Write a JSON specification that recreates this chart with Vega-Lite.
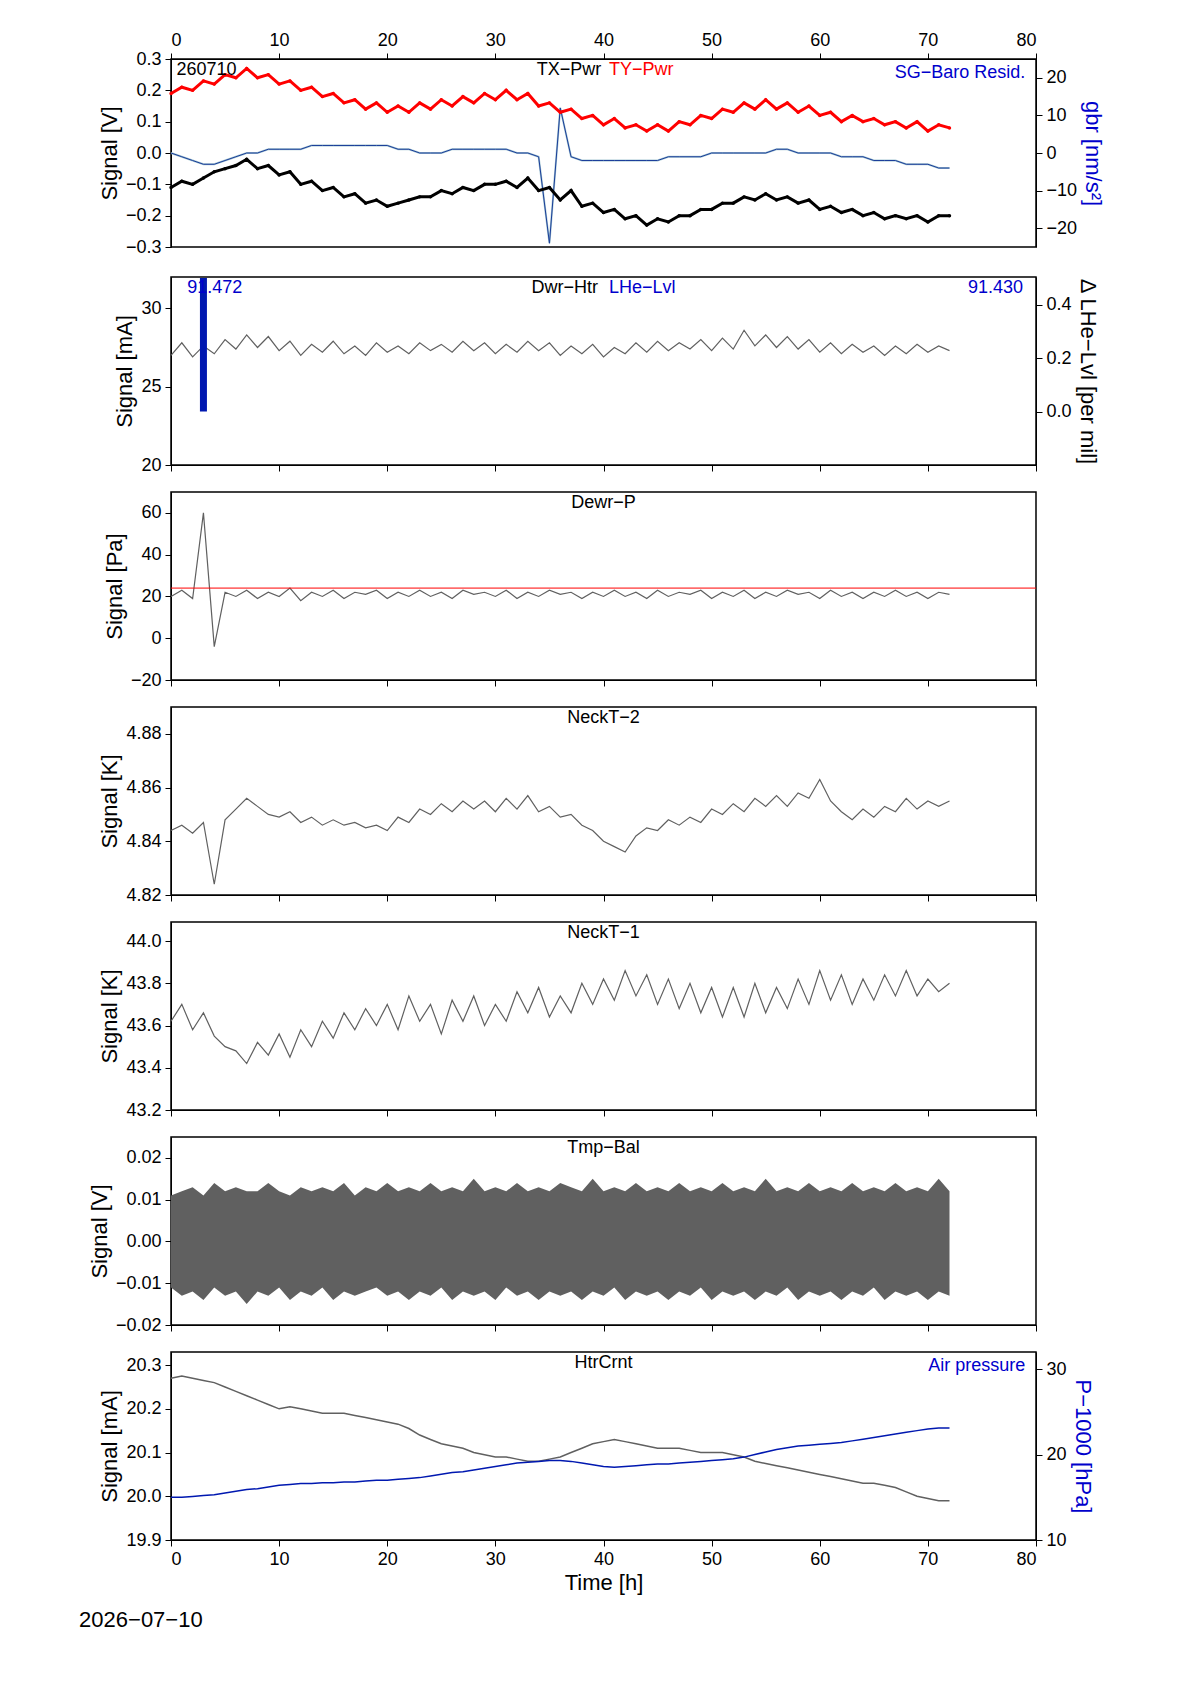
{
  "$schema": "https://vega.github.io/schema/vega-lite/v6.json",
  "background": "white",
  "padding": {"left": 78, "top": 30, "right": 20, "bottom": 10},
  "datasets": {
    "d": [
      {"t":0,"ty":0.19,"tx":-0.11,"sg":0,"hr":27.0,"dp":20,"n2":4.844,"n1":43.62,"lo":-0.011,"hi":0.011,"hc":20.27,"ap":15.0},
      {"t":1,"ty":0.21,"tx":-0.09,"sg":-1,"hr":27.8,"dp":23,"n2":4.846,"n1":43.70,"lo":-0.013,"hi":0.012,"hc":20.275,"ap":15.0},
      {"t":2,"ty":0.20,"tx":-0.10,"sg":-2,"hr":26.9,"dp":19,"n2":4.843,"n1":43.58,"lo":-0.012,"hi":0.013,"hc":20.27,"ap":15.1},
      {"t":3,"ty":0.23,"tx":-0.08,"sg":-3,"hr":27.6,"dp":60,"n2":4.847,"n1":43.66,"lo":-0.014,"hi":0.011,"hc":20.265,"ap":15.2},
      {"t":4,"ty":0.22,"tx":-0.06,"sg":-3,"hr":27.1,"dp":-4,"n2":4.824,"n1":43.55,"lo":-0.011,"hi":0.014,"hc":20.26,"ap":15.3},
      {"t":5,"ty":0.25,"tx":-0.05,"sg":-2,"hr":28.0,"dp":22,"n2":4.848,"n1":43.50,"lo":-0.013,"hi":0.012,"hc":20.25,"ap":15.5},
      {"t":6,"ty":0.24,"tx":-0.04,"sg":-1,"hr":27.4,"dp":20,"n2":4.852,"n1":43.48,"lo":-0.012,"hi":0.013,"hc":20.24,"ap":15.7},
      {"t":7,"ty":0.27,"tx":-0.02,"sg":0,"hr":28.3,"dp":23,"n2":4.856,"n1":43.42,"lo":-0.015,"hi":0.012,"hc":20.23,"ap":15.9},
      {"t":8,"ty":0.24,"tx":-0.05,"sg":0,"hr":27.5,"dp":19,"n2":4.853,"n1":43.52,"lo":-0.012,"hi":0.012,"hc":20.22,"ap":16.0},
      {"t":9,"ty":0.25,"tx":-0.04,"sg":1,"hr":28.2,"dp":22,"n2":4.850,"n1":43.46,"lo":-0.013,"hi":0.014,"hc":20.21,"ap":16.2},
      {"t":10,"ty":0.22,"tx":-0.07,"sg":1,"hr":27.3,"dp":20,"n2":4.849,"n1":43.56,"lo":-0.011,"hi":0.012,"hc":20.20,"ap":16.4},
      {"t":11,"ty":0.23,"tx":-0.06,"sg":1,"hr":27.9,"dp":24,"n2":4.851,"n1":43.45,"lo":-0.014,"hi":0.011,"hc":20.205,"ap":16.5},
      {"t":12,"ty":0.20,"tx":-0.10,"sg":1,"hr":27.0,"dp":18,"n2":4.847,"n1":43.58,"lo":-0.012,"hi":0.013,"hc":20.20,"ap":16.6},
      {"t":13,"ty":0.21,"tx":-0.09,"sg":2,"hr":27.7,"dp":22,"n2":4.849,"n1":43.50,"lo":-0.013,"hi":0.012,"hc":20.195,"ap":16.6},
      {"t":14,"ty":0.18,"tx":-0.12,"sg":2,"hr":27.2,"dp":20,"n2":4.846,"n1":43.62,"lo":-0.011,"hi":0.013,"hc":20.19,"ap":16.7},
      {"t":15,"ty":0.19,"tx":-0.11,"sg":2,"hr":27.9,"dp":23,"n2":4.848,"n1":43.54,"lo":-0.014,"hi":0.012,"hc":20.19,"ap":16.7},
      {"t":16,"ty":0.16,"tx":-0.14,"sg":2,"hr":27.1,"dp":19,"n2":4.846,"n1":43.66,"lo":-0.012,"hi":0.014,"hc":20.19,"ap":16.8},
      {"t":17,"ty":0.17,"tx":-0.13,"sg":2,"hr":27.6,"dp":22,"n2":4.847,"n1":43.58,"lo":-0.013,"hi":0.011,"hc":20.185,"ap":16.8},
      {"t":18,"ty":0.14,"tx":-0.16,"sg":2,"hr":27.0,"dp":21,"n2":4.845,"n1":43.68,"lo":-0.012,"hi":0.013,"hc":20.18,"ap":16.9},
      {"t":19,"ty":0.16,"tx":-0.15,"sg":2,"hr":27.8,"dp":23,"n2":4.846,"n1":43.60,"lo":-0.011,"hi":0.012,"hc":20.175,"ap":17.0},
      {"t":20,"ty":0.13,"tx":-0.17,"sg":2,"hr":27.2,"dp":19,"n2":4.844,"n1":43.70,"lo":-0.013,"hi":0.014,"hc":20.17,"ap":17.0},
      {"t":21,"ty":0.15,"tx":-0.16,"sg":1,"hr":27.6,"dp":22,"n2":4.849,"n1":43.58,"lo":-0.012,"hi":0.012,"hc":20.165,"ap":17.1},
      {"t":22,"ty":0.13,"tx":-0.15,"sg":1,"hr":27.1,"dp":20,"n2":4.847,"n1":43.74,"lo":-0.014,"hi":0.013,"hc":20.155,"ap":17.2},
      {"t":23,"ty":0.16,"tx":-0.14,"sg":0,"hr":27.8,"dp":23,"n2":4.852,"n1":43.62,"lo":-0.012,"hi":0.012,"hc":20.14,"ap":17.3},
      {"t":24,"ty":0.14,"tx":-0.14,"sg":0,"hr":27.3,"dp":20,"n2":4.850,"n1":43.70,"lo":-0.013,"hi":0.014,"hc":20.13,"ap":17.5},
      {"t":25,"ty":0.17,"tx":-0.12,"sg":0,"hr":27.7,"dp":22,"n2":4.854,"n1":43.56,"lo":-0.011,"hi":0.012,"hc":20.12,"ap":17.7},
      {"t":26,"ty":0.15,"tx":-0.13,"sg":1,"hr":27.2,"dp":19,"n2":4.851,"n1":43.72,"lo":-0.014,"hi":0.013,"hc":20.115,"ap":17.9},
      {"t":27,"ty":0.18,"tx":-0.11,"sg":1,"hr":27.9,"dp":23,"n2":4.855,"n1":43.62,"lo":-0.012,"hi":0.012,"hc":20.11,"ap":18.0},
      {"t":28,"ty":0.16,"tx":-0.12,"sg":1,"hr":27.3,"dp":21,"n2":4.852,"n1":43.74,"lo":-0.013,"hi":0.015,"hc":20.10,"ap":18.2},
      {"t":29,"ty":0.19,"tx":-0.10,"sg":1,"hr":27.8,"dp":22,"n2":4.855,"n1":43.60,"lo":-0.012,"hi":0.012,"hc":20.095,"ap":18.4},
      {"t":30,"ty":0.17,"tx":-0.10,"sg":1,"hr":27.1,"dp":20,"n2":4.851,"n1":43.70,"lo":-0.014,"hi":0.013,"hc":20.09,"ap":18.6},
      {"t":31,"ty":0.20,"tx":-0.09,"sg":1,"hr":27.7,"dp":23,"n2":4.856,"n1":43.62,"lo":-0.011,"hi":0.012,"hc":20.09,"ap":18.8},
      {"t":32,"ty":0.17,"tx":-0.11,"sg":0,"hr":27.2,"dp":19,"n2":4.852,"n1":43.76,"lo":-0.013,"hi":0.014,"hc":20.085,"ap":19.0},
      {"t":33,"ty":0.19,"tx":-0.08,"sg":0,"hr":27.9,"dp":22,"n2":4.857,"n1":43.66,"lo":-0.012,"hi":0.012,"hc":20.08,"ap":19.1},
      {"t":34,"ty":0.15,"tx":-0.12,"sg":-1,"hr":27.3,"dp":20,"n2":4.851,"n1":43.78,"lo":-0.014,"hi":0.013,"hc":20.08,"ap":19.2},
      {"t":35,"ty":0.16,"tx":-0.11,"sg":-24,"hr":27.8,"dp":23,"n2":4.853,"n1":43.64,"lo":-0.012,"hi":0.012,"hc":20.085,"ap":19.3},
      {"t":36,"ty":0.13,"tx":-0.15,"sg":12,"hr":27.0,"dp":21,"n2":4.849,"n1":43.74,"lo":-0.013,"hi":0.014,"hc":20.09,"ap":19.3},
      {"t":37,"ty":0.14,"tx":-0.12,"sg":-1,"hr":27.6,"dp":22,"n2":4.850,"n1":43.66,"lo":-0.012,"hi":0.013,"hc":20.10,"ap":19.2},
      {"t":38,"ty":0.11,"tx":-0.17,"sg":-2,"hr":27.1,"dp":19,"n2":4.846,"n1":43.80,"lo":-0.014,"hi":0.012,"hc":20.11,"ap":19.0},
      {"t":39,"ty":0.12,"tx":-0.16,"sg":-2,"hr":27.7,"dp":22,"n2":4.844,"n1":43.70,"lo":-0.012,"hi":0.015,"hc":20.12,"ap":18.8},
      {"t":40,"ty":0.09,"tx":-0.19,"sg":-2,"hr":26.9,"dp":20,"n2":4.840,"n1":43.82,"lo":-0.013,"hi":0.012,"hc":20.125,"ap":18.6},
      {"t":41,"ty":0.11,"tx":-0.18,"sg":-2,"hr":27.5,"dp":23,"n2":4.838,"n1":43.72,"lo":-0.011,"hi":0.013,"hc":20.13,"ap":18.5},
      {"t":42,"ty":0.08,"tx":-0.21,"sg":-2,"hr":27.1,"dp":20,"n2":4.836,"n1":43.86,"lo":-0.014,"hi":0.012,"hc":20.125,"ap":18.6},
      {"t":43,"ty":0.09,"tx":-0.20,"sg":-2,"hr":27.8,"dp":22,"n2":4.842,"n1":43.74,"lo":-0.012,"hi":0.014,"hc":20.12,"ap":18.7},
      {"t":44,"ty":0.07,"tx":-0.23,"sg":-2,"hr":27.2,"dp":19,"n2":4.845,"n1":43.84,"lo":-0.013,"hi":0.012,"hc":20.115,"ap":18.8},
      {"t":45,"ty":0.09,"tx":-0.21,"sg":-2,"hr":27.9,"dp":23,"n2":4.844,"n1":43.70,"lo":-0.012,"hi":0.013,"hc":20.11,"ap":18.9},
      {"t":46,"ty":0.07,"tx":-0.22,"sg":-1,"hr":27.3,"dp":20,"n2":4.848,"n1":43.82,"lo":-0.014,"hi":0.012,"hc":20.11,"ap":18.9},
      {"t":47,"ty":0.10,"tx":-0.20,"sg":-1,"hr":27.8,"dp":22,"n2":4.846,"n1":43.68,"lo":-0.012,"hi":0.014,"hc":20.11,"ap":19.0},
      {"t":48,"ty":0.09,"tx":-0.20,"sg":-1,"hr":27.4,"dp":21,"n2":4.849,"n1":43.80,"lo":-0.013,"hi":0.012,"hc":20.105,"ap":19.1},
      {"t":49,"ty":0.12,"tx":-0.18,"sg":-1,"hr":28.0,"dp":23,"n2":4.847,"n1":43.66,"lo":-0.011,"hi":0.013,"hc":20.10,"ap":19.2},
      {"t":50,"ty":0.11,"tx":-0.18,"sg":0,"hr":27.3,"dp":19,"n2":4.852,"n1":43.78,"lo":-0.014,"hi":0.012,"hc":20.10,"ap":19.3},
      {"t":51,"ty":0.14,"tx":-0.16,"sg":0,"hr":28.1,"dp":22,"n2":4.850,"n1":43.64,"lo":-0.012,"hi":0.014,"hc":20.10,"ap":19.4},
      {"t":52,"ty":0.13,"tx":-0.16,"sg":0,"hr":27.4,"dp":20,"n2":4.854,"n1":43.78,"lo":-0.013,"hi":0.012,"hc":20.095,"ap":19.5},
      {"t":53,"ty":0.16,"tx":-0.14,"sg":0,"hr":28.6,"dp":23,"n2":4.851,"n1":43.64,"lo":-0.012,"hi":0.013,"hc":20.09,"ap":19.7},
      {"t":54,"ty":0.14,"tx":-0.15,"sg":0,"hr":27.6,"dp":19,"n2":4.856,"n1":43.80,"lo":-0.014,"hi":0.012,"hc":20.08,"ap":20.0},
      {"t":55,"ty":0.17,"tx":-0.13,"sg":0,"hr":28.3,"dp":22,"n2":4.853,"n1":43.66,"lo":-0.012,"hi":0.015,"hc":20.075,"ap":20.3},
      {"t":56,"ty":0.14,"tx":-0.15,"sg":1,"hr":27.5,"dp":20,"n2":4.857,"n1":43.78,"lo":-0.013,"hi":0.012,"hc":20.07,"ap":20.6},
      {"t":57,"ty":0.16,"tx":-0.14,"sg":1,"hr":28.2,"dp":23,"n2":4.853,"n1":43.68,"lo":-0.011,"hi":0.013,"hc":20.065,"ap":20.8},
      {"t":58,"ty":0.13,"tx":-0.16,"sg":0,"hr":27.4,"dp":21,"n2":4.858,"n1":43.82,"lo":-0.014,"hi":0.012,"hc":20.06,"ap":21.0},
      {"t":59,"ty":0.15,"tx":-0.15,"sg":0,"hr":28.0,"dp":22,"n2":4.856,"n1":43.70,"lo":-0.012,"hi":0.014,"hc":20.055,"ap":21.1},
      {"t":60,"ty":0.12,"tx":-0.18,"sg":0,"hr":27.2,"dp":19,"n2":4.863,"n1":43.86,"lo":-0.013,"hi":0.012,"hc":20.05,"ap":21.2},
      {"t":61,"ty":0.13,"tx":-0.17,"sg":0,"hr":27.8,"dp":23,"n2":4.855,"n1":43.72,"lo":-0.012,"hi":0.013,"hc":20.045,"ap":21.3},
      {"t":62,"ty":0.10,"tx":-0.19,"sg":-1,"hr":27.1,"dp":20,"n2":4.851,"n1":43.84,"lo":-0.014,"hi":0.012,"hc":20.04,"ap":21.4},
      {"t":63,"ty":0.12,"tx":-0.18,"sg":-1,"hr":27.7,"dp":22,"n2":4.848,"n1":43.70,"lo":-0.012,"hi":0.014,"hc":20.035,"ap":21.6},
      {"t":64,"ty":0.10,"tx":-0.20,"sg":-1,"hr":27.2,"dp":19,"n2":4.852,"n1":43.82,"lo":-0.013,"hi":0.012,"hc":20.03,"ap":21.8},
      {"t":65,"ty":0.11,"tx":-0.19,"sg":-2,"hr":27.6,"dp":22,"n2":4.849,"n1":43.72,"lo":-0.011,"hi":0.013,"hc":20.03,"ap":22.0},
      {"t":66,"ty":0.09,"tx":-0.21,"sg":-2,"hr":27.0,"dp":20,"n2":4.853,"n1":43.84,"lo":-0.014,"hi":0.012,"hc":20.025,"ap":22.2},
      {"t":67,"ty":0.10,"tx":-0.20,"sg":-2,"hr":27.6,"dp":23,"n2":4.851,"n1":43.74,"lo":-0.012,"hi":0.014,"hc":20.02,"ap":22.4},
      {"t":68,"ty":0.08,"tx":-0.21,"sg":-3,"hr":27.1,"dp":20,"n2":4.856,"n1":43.86,"lo":-0.013,"hi":0.012,"hc":20.01,"ap":22.6},
      {"t":69,"ty":0.10,"tx":-0.20,"sg":-3,"hr":27.7,"dp":22,"n2":4.852,"n1":43.74,"lo":-0.012,"hi":0.013,"hc":20.00,"ap":22.8},
      {"t":70,"ty":0.07,"tx":-0.22,"sg":-3,"hr":27.2,"dp":19,"n2":4.855,"n1":43.82,"lo":-0.014,"hi":0.012,"hc":19.995,"ap":23.0},
      {"t":71,"ty":0.09,"tx":-0.20,"sg":-4,"hr":27.6,"dp":22,"n2":4.853,"n1":43.76,"lo":-0.012,"hi":0.015,"hc":19.99,"ap":23.1},
      {"t":72,"ty":0.08,"tx":-0.20,"sg":-4,"hr":27.3,"dp":21,"n2":4.855,"n1":43.80,"lo":-0.013,"hi":0.012,"hc":19.99,"ap":23.1}
    ]
  },
  "data": {"name": "d"},
  "spacing": 16,
  "vconcat": [
    {
      "width": 865, "height": 188,
      "layer": [
        {"mark": {"type": "line", "color": "#a8c8d4", "strokeWidth": 2},
         "encoding": {"x": {"field": "t", "type": "quantitative", "scale": {"domain": [0, 80], "nice": false}, "axis": {"orient": "top", "title": null, "values": [0,10,20,30,40,50,60,70,80]}},
                      "y": {"field": "sg", "type": "quantitative", "scale": {"domain": [-25, 25]}, "axis": {"orient": "right", "title": "gbr [nm/s²]", "titleColor": "#0000cc", "values": [-20,-10,0,10,20]}}}},
        {"mark": {"type": "line", "color": "#1a3d99", "strokeWidth": 1},
         "encoding": {"x": {"field": "t", "type": "quantitative"}, "y": {"field": "sg", "type": "quantitative", "scale": {"domain": [-25, 25]}, "axis": null}}},
        {"mark": {"type": "line", "color": "red", "strokeWidth": 3, "point": {"size": 12, "color": "red"}},
         "encoding": {"x": {"field": "t", "type": "quantitative"}, "y": {"field": "ty", "type": "quantitative", "scale": {"domain": [-0.3, 0.3]}, "axis": {"title": "Signal [V]", "values": [-0.3,-0.2,-0.1,0,0.1,0.2,0.3], "format": ".1f"}}}},
        {"mark": {"type": "line", "color": "black", "strokeWidth": 3, "point": {"size": 12, "color": "black"}},
         "encoding": {"x": {"field": "t", "type": "quantitative"}, "y": {"field": "tx", "type": "quantitative", "scale": {"domain": [-0.3, 0.3]}, "axis": null}}},
        {"data": {"values": [{}]}, "mark": {"type": "text", "align": "left", "baseline": "top", "fontSize": 18, "dy": 2},
         "encoding": {"x": {"datum": 0.5, "type": "quantitative"}, "y": {"datum": 0.3, "type": "quantitative", "scale": {"domain": [-0.3, 0.3]}, "axis": null}, "text": {"value": "260710"}}},
        {"data": {"values": [{}]}, "mark": {"type": "text", "align": "right", "baseline": "top", "fontSize": 18, "dy": 2},
         "encoding": {"x": {"datum": 39.8, "type": "quantitative"}, "y": {"datum": 0.3, "type": "quantitative", "scale": {"domain": [-0.3, 0.3]}, "axis": null}, "text": {"value": "TX−Pwr"}}},
        {"data": {"values": [{}]}, "mark": {"type": "text", "align": "left", "baseline": "top", "fontSize": 18, "dy": 2, "color": "red"},
         "encoding": {"x": {"datum": 40.5, "type": "quantitative"}, "y": {"datum": 0.3, "type": "quantitative", "scale": {"domain": [-0.3, 0.3]}, "axis": null}, "text": {"value": "TY−Pwr"}}},
        {"data": {"values": [{}]}, "mark": {"type": "text", "align": "right", "baseline": "top", "fontSize": 18, "dy": 5, "color": "#0000cc"},
         "encoding": {"x": {"datum": 79, "type": "quantitative"}, "y": {"datum": 0.3, "type": "quantitative", "scale": {"domain": [-0.3, 0.3]}, "axis": null}, "text": {"value": "SG−Baro Resid."}}}
      ],
      "resolve": {"scale": {"y": "independent"}}
    },
    {
      "width": 865, "height": 188,
      "layer": [
        {"mark": {"type": "line", "color": "#606060", "strokeWidth": 1.2},
         "encoding": {"x": {"field": "t", "type": "quantitative", "scale": {"domain": [0, 80], "nice": false}, "axis": {"labels": false, "title": null, "values": [0,10,20,30,40,50,60,70,80]}},
                      "y": {"field": "hr", "type": "quantitative", "scale": {"domain": [20, 32], "nice": false}, "axis": {"title": "Signal [mA]", "values": [20, 25, 30]}}}},
        {"data": {"values": [{"t": 3, "a": 0, "b": 0.5}]}, "mark": {"type": "rule", "color": "#0018b0", "strokeWidth": 7},
         "encoding": {"x": {"field": "t", "type": "quantitative"}, "y": {"field": "a", "type": "quantitative", "scale": {"domain": [-0.2, 0.504], "nice": false}, "axis": {"orient": "right", "title": "Δ LHe−Lvl [per mil]", "values": [0, 0.2, 0.4], "format": ".1f"}}, "y2": {"field": "b"}}},
        {"data": {"values": [{}]}, "mark": {"type": "text", "align": "left", "baseline": "top", "fontSize": 18, "dy": 2, "color": "#0000cc"},
         "encoding": {"x": {"datum": 1.5, "type": "quantitative"}, "y": {"datum": 32, "type": "quantitative", "scale": {"domain": [20, 32]}, "axis": null}, "text": {"value": "91.472"}}},
        {"data": {"values": [{}]}, "mark": {"type": "text", "align": "right", "baseline": "top", "fontSize": 18, "dy": 2},
         "encoding": {"x": {"datum": 39.5, "type": "quantitative"}, "y": {"datum": 32, "type": "quantitative", "scale": {"domain": [20, 32]}, "axis": null}, "text": {"value": "Dwr−Htr"}}},
        {"data": {"values": [{}]}, "mark": {"type": "text", "align": "left", "baseline": "top", "fontSize": 18, "dy": 2, "color": "#0000cc"},
         "encoding": {"x": {"datum": 40.5, "type": "quantitative"}, "y": {"datum": 32, "type": "quantitative", "scale": {"domain": [20, 32]}, "axis": null}, "text": {"value": "LHe−Lvl"}}},
        {"data": {"values": [{}]}, "mark": {"type": "text", "align": "right", "baseline": "top", "fontSize": 18, "dy": 2, "color": "#0000cc"},
         "encoding": {"x": {"datum": 78.8, "type": "quantitative"}, "y": {"datum": 32, "type": "quantitative", "scale": {"domain": [20, 32]}, "axis": null}, "text": {"value": "91.430"}}}
      ],
      "resolve": {"scale": {"y": "independent"}}
    },
    {
      "width": 865, "height": 188,
      "layer": [
        {"mark": {"type": "line", "color": "#606060", "strokeWidth": 1.2},
         "encoding": {"x": {"field": "t", "type": "quantitative", "scale": {"domain": [0, 80], "nice": false}, "axis": {"labels": false, "title": null, "values": [0,10,20,30,40,50,60,70,80]}},
                      "y": {"field": "dp", "type": "quantitative", "scale": {"domain": [-20, 70], "nice": false}, "axis": {"title": "Signal [Pa]", "values": [-20, 0, 20, 40, 60]}}}},
        {"data": {"values": [{"v": 24}]}, "mark": {"type": "rule", "color": "red", "strokeWidth": 1},
         "encoding": {"y": {"field": "v", "type": "quantitative"}}},
        {"data": {"values": [{}]}, "mark": {"type": "text", "align": "center", "baseline": "top", "fontSize": 18, "dy": 2},
         "encoding": {"x": {"datum": 40, "type": "quantitative"}, "y": {"datum": 70, "type": "quantitative"}, "text": {"value": "Dewr−P"}}}
      ]
    },
    {
      "width": 865, "height": 188,
      "layer": [
        {"mark": {"type": "line", "color": "#606060", "strokeWidth": 1.2},
         "encoding": {"x": {"field": "t", "type": "quantitative", "scale": {"domain": [0, 80], "nice": false}, "axis": {"labels": false, "title": null, "values": [0,10,20,30,40,50,60,70,80]}},
                      "y": {"field": "n2", "type": "quantitative", "scale": {"domain": [4.82, 4.89], "nice": false, "zero": false}, "axis": {"title": "Signal [K]", "values": [4.82, 4.84, 4.86, 4.88], "format": ".2f"}}}},
        {"data": {"values": [{}]}, "mark": {"type": "text", "align": "center", "baseline": "top", "fontSize": 18, "dy": 2},
         "encoding": {"x": {"datum": 40, "type": "quantitative"}, "y": {"datum": 4.89, "type": "quantitative"}, "text": {"value": "NeckT−2"}}}
      ]
    },
    {
      "width": 865, "height": 188,
      "layer": [
        {"mark": {"type": "line", "color": "#606060", "strokeWidth": 1.2},
         "encoding": {"x": {"field": "t", "type": "quantitative", "scale": {"domain": [0, 80], "nice": false}, "axis": {"labels": false, "title": null, "values": [0,10,20,30,40,50,60,70,80]}},
                      "y": {"field": "n1", "type": "quantitative", "scale": {"domain": [43.2, 44.09], "nice": false, "zero": false}, "axis": {"title": "Signal [K]", "values": [43.2, 43.4, 43.6, 43.8, 44.0], "format": ".1f"}}}},
        {"data": {"values": [{}]}, "mark": {"type": "text", "align": "center", "baseline": "top", "fontSize": 18, "dy": 2},
         "encoding": {"x": {"datum": 40, "type": "quantitative"}, "y": {"datum": 44.09, "type": "quantitative"}, "text": {"value": "NeckT−1"}}}
      ]
    },
    {
      "width": 865, "height": 188,
      "layer": [
        {"mark": {"type": "area", "color": "#606060", "opacity": 1},
         "encoding": {"x": {"field": "t", "type": "quantitative", "scale": {"domain": [0, 80], "nice": false}, "axis": {"labels": false, "title": null, "values": [0,10,20,30,40,50,60,70,80]}},
                      "y": {"field": "lo", "type": "quantitative", "scale": {"domain": [-0.02, 0.025], "nice": false}, "axis": {"title": "Signal [V]", "values": [-0.02, -0.01, 0, 0.01, 0.02], "format": ".2f"}},
                      "y2": {"field": "hi"}}},
        {"data": {"values": [{}]}, "mark": {"type": "text", "align": "center", "baseline": "top", "fontSize": 18, "dy": 2},
         "encoding": {"x": {"datum": 40, "type": "quantitative"}, "y": {"datum": 0.025, "type": "quantitative"}, "text": {"value": "Tmp−Bal"}}}
      ]
    },
    {
      "width": 865, "height": 188,
      "layer": [
        {"mark": {"type": "line", "color": "#606060", "strokeWidth": 1.5},
         "encoding": {"x": {"field": "t", "type": "quantitative", "scale": {"domain": [0, 80], "nice": false}, "axis": {"title": "Time [h]", "values": [0,10,20,30,40,50,60,70,80]}},
                      "y": {"field": "hc", "type": "quantitative", "scale": {"domain": [19.9, 20.33], "nice": false, "zero": false}, "axis": {"title": "Signal [mA]", "values": [19.9, 20.0, 20.1, 20.2, 20.3], "format": ".1f"}}}},
        {"mark": {"type": "line", "color": "#0018b0", "strokeWidth": 1.5},
         "encoding": {"x": {"field": "t", "type": "quantitative"},
                      "y": {"field": "ap", "type": "quantitative", "scale": {"domain": [10, 32], "nice": false}, "axis": {"orient": "right", "title": "P−1000 [hPa]", "titleColor": "#0000cc", "values": [10, 20, 30]}}}},
        {"data": {"values": [{}]}, "mark": {"type": "text", "align": "center", "baseline": "top", "fontSize": 18, "dy": 2},
         "encoding": {"x": {"datum": 40, "type": "quantitative"}, "y": {"datum": 20.33, "type": "quantitative", "scale": {"domain": [19.9, 20.33]}, "axis": null}, "text": {"value": "HtrCrnt"}}},
        {"data": {"values": [{}]}, "mark": {"type": "text", "align": "right", "baseline": "top", "fontSize": 18, "dy": 5, "color": "#0000cc"},
         "encoding": {"x": {"datum": 79, "type": "quantitative"}, "y": {"datum": 20.33, "type": "quantitative", "scale": {"domain": [19.9, 20.33]}, "axis": null}, "text": {"value": "Air pressure"}}},
        {"data": {"values": [{}]}, "mark": {"type": "text", "align": "left", "baseline": "middle", "fontSize": 22, "dy": 80},
         "encoding": {"x": {"datum": -8.5, "type": "quantitative"}, "y": {"datum": 19.9, "type": "quantitative", "scale": {"domain": [19.9, 20.33]}, "axis": null}, "text": {"value": "2026−07−10"}}}
      ],
      "resolve": {"scale": {"y": "independent"}}
    }
  ],
  "config": {
    "font": "Liberation Sans",
    "view": {"stroke": "black", "strokeWidth": 1.5},
    "axis": {"grid": false, "domainColor": "black", "tickColor": "black", "labelColor": "black", "titleColor": "black", "labelFontSize": 18, "titleFontSize": 22, "titleFontWeight": "normal", "labelFont": "Liberation Sans", "titleFont": "Liberation Sans", "tickSize": 6, "labelPadding": 4},
    "text": {"font": "Liberation Sans"}
  }
}
